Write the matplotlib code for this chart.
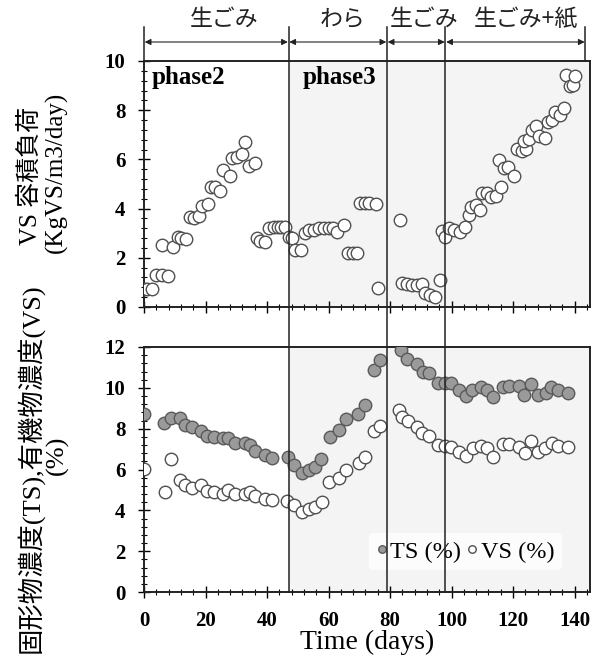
import matplotlib
matplotlib.use('Agg')
import matplotlib.pyplot as plt
import matplotlib.ticker as ticker
from matplotlib.lines import Line2D
from matplotlib.patches import FancyArrowPatch
from matplotlib.transforms import blended_transform_factory

plt.rcParams['font.family'] = ['Liberation Serif', 'Noto Sans CJK JP']

# VS volumetric load (top panel)
load_days = [0, 1, 2.5, 4, 6, 7.8, 5.8, 9.4, 11, 12.1, 13.8, 14.9, 16.2, 17.8,
             18.7, 20.9, 21.7, 23, 24.7, 25.8, 28, 28.5, 30.2, 31.8, 32.9, 34, 36,
             36.7, 37.8, 39.4, 40.6, 42.2, 43.5, 44.6, 46, 47.1, 48.2, 49.1, 50.9,
             52.4, 53.7, 55.3, 56.9, 58.6, 60.2, 61.3, 62.9, 65.1, 66.2, 67.9, 69.2,
             70.1, 71.7, 73.3, 75.3, 76.1, 83.2, 84.0, 85.4, 87, 88.6, 90.3, 91.4,
             93, 94.7, 96.1, 96.8, 97.9, 99, 100.7, 102.8, 104.5, 105.6, 106.3,
             107.8, 109.4, 110, 111.4, 112.7, 114.4, 116, 115.4, 117, 118.4, 120.3,
             121.4, 122.8, 124.2, 123.4, 125.2, 126.3, 127.4, 128.5, 130.4, 131.2,
             132.6, 133.7, 135.1, 136.5, 137.3, 138.4, 139.4, 140.2]
load_vals = [0.72, 0.72, 0.72, 1.3, 1.3, 1.26, 2.52, 2.45, 2.86, 2.8, 2.77, 3.64, 3.6, 3.71,
             4.12, 4.18, 4.89, 4.89, 4.73, 5.57, 5.33, 6.04, 6.08, 6.2, 6.72, 5.73, 5.84,
             2.82, 2.7, 2.65, 3.2, 3.24, 3.26, 3.26, 3.26, 2.83, 2.79, 2.32, 2.32,
             3.0, 3.13, 3.13, 3.2, 3.2, 3.2, 3.2, 3.06, 3.33, 2.21, 2.21, 2.21,
             4.24, 4.24, 4.21, 4.19, 0.76, 3.54, 0.96, 0.94, 0.9, 0.9, 0.94, 0.56,
             0.49, 0.42, 1.1, 3.09, 2.86, 3.2, 3.13, 3.06, 3.27, 3.74, 4.08,
             4.15, 3.94, 4.65, 4.62, 4.48, 4.52, 4.89, 5.98, 5.64, 5.7, 5.33,
             6.41, 6.36, 6.41, 6.76, 6.82, 7.2, 7.36, 6.95, 6.86, 7.53,
             7.6, 7.94, 7.8, 8.08, 9.43, 8.98, 9.02, 9.4]

# TS / VS concentration (bottom panel)
ts_days = [0, 6.5, 8.7, 11.6, 13.3, 15.5, 18.4, 20.6, 22.7, 25.6, 27.4, 29.5, 32.8, 34.6,
           36.2, 39.5, 41.7, 46.9, 48.7, 51.4, 53.6, 55.7, 57.7, 60.6, 63.5, 65.7, 69.7,
           71.8, 74.7, 76.8, 83.7, 85.5, 88.7, 90.6, 92.5, 95.6, 97.7, 99.9, 102.3, 104.6,
           106.6, 109.6, 111.5, 113.6, 116.6, 118.7, 121.8, 123.7, 125.9, 128, 130.6,
           132.4, 134.7, 137.8]
ts_vals = [8.72, 8.3, 8.51, 8.51, 8.18, 8.1, 7.9, 7.66, 7.6, 7.53, 7.53, 7.31, 7.31, 7.2,
           6.92, 6.71, 6.55, 6.6, 6.22, 5.81, 5.98, 6.14, 6.5, 7.61, 7.94, 8.46, 8.72,
           9.17, 10.85, 11.37, 11.83, 11.41, 11.18, 10.8, 10.72, 10.23, 10.23, 10.23, 9.9, 9.61,
           9.9, 10.06, 9.9, 9.57, 10.03, 10.1, 10.1, 9.66, 10.2, 9.66, 9.77,
           10.03, 9.87, 9.77]
vs_days = [0, 6.8, 8.7, 11.6, 13.3, 15.5, 18.4, 20.6, 22.7, 25.6, 27.4, 29.5, 32.8, 34.6,
           36.2, 39.5, 41.7, 46.5, 48.7, 51.4, 53.6, 55.7, 57.9, 60.3, 63.5, 65.7, 69.8,
           71.8, 74.7, 76.8, 82.8, 83.9, 85.8, 88.7, 90.4, 92.5, 95.6, 97.7, 99.9, 102.5,
           104.6, 106.8, 109.6, 111.5, 113.6, 116.6, 118.7, 121.8, 123.9, 125.9, 128,
           130.3, 132.6, 134.7, 137.8]
vs_vals = [6.01, 4.88, 6.5, 5.48, 5.24, 5.07, 5.24, 4.96, 4.88, 4.8, 5.0, 4.8, 4.8, 4.9,
           4.7, 4.55, 4.5, 4.47, 4.26, 3.93, 4.06, 4.17, 4.42, 5.4, 5.57, 5.97, 6.3,
           6.6, 7.9, 8.15, 8.92, 8.59, 8.4, 8.07, 7.78, 7.64, 7.2, 7.17, 7.09, 6.87,
           6.66, 7.04, 7.17, 7.04, 6.63, 7.25, 7.25, 7.09, 6.82, 7.41, 6.87,
           7.04, 7.31, 7.17, 7.09]

# feed periods
bounds = [0, 47, 79, 98, 143.5]
feed_labels = ['生ごみ', 'わら', '生ごみ', '生ごみ+紙']
feed_label_x = [26, 64.5, 91, 124]
phase_labels = ['phase2', 'phase3']
phase_x = [2.5, 51.5]

W, H = 605, 657
fig = plt.figure(figsize=(W / 100, H / 100), dpi=100)
left, right = 144 / W, 590 / W
ax1 = fig.add_axes([left, (H - 307) / H, right - left, 246 / H])
ax2 = fig.add_axes([left, (H - 592) / H, right - left, 245 / H])

open_kw = dict(marker='o', ls='none', ms=9, mfc='white', mec='#505050', mew=1.0)
fill_kw = dict(marker='o', ls='none', ms=9, mfc='#9a9a9a', mec='#5a5a5a', mew=1.0)

ax1.plot(load_days, load_vals, zorder=3, **open_kw)
ax2.plot(ts_days, ts_vals, zorder=3, label='TS (%)', **fill_kw)
ax2.plot(vs_days, vs_vals, zorder=3, label='VS (%)', **open_kw)

for ax, ymax, in [(ax1, 10), (ax2, 12)]:
    ax.set_xlim(0, 145)
    ax.set_ylim(0, ymax)
    ax.axvspan(bounds[1], 145, color='#f4f4f4', zorder=0, lw=0)
    ax.xaxis.set_major_locator(ticker.MultipleLocator(20))
    ax.xaxis.set_minor_locator(ticker.MultipleLocator(4))
    ax.yaxis.set_major_locator(ticker.MultipleLocator(2))
    ax.yaxis.set_minor_locator(ticker.MultipleLocator(0.4))
    ax.tick_params(which='major', direction='inout', length=9, width=1, labelsize=15, pad=9)
    ax.tick_params(which='minor', direction='inout', length=5, width=0.8)
    for sp in ax.spines.values():
        sp.set_linewidth(1.4)
        sp.set_color('#222222')
    for lab in ax.get_xticklabels() + ax.get_yticklabels():
        lab.set_fontweight('bold')

ax1.tick_params(axis='x', labelbottom=False)
ax2.set_xlabel('Time (days)', fontsize=20, labelpad=-1)

# y titles, two lines each
ylab_kw = dict(rotation=90, ha='center', va='center')
fig.text(30 / W, (H - 176) / H, 'VS 容積負荷', fontsize=18, **ylab_kw)
fig.text(56 / W, (H - 172) / H, '(KgVS/m3/day)', fontsize=18, **ylab_kw)
fig.text(30 / W, (H - 468) / H, '固形物濃度(TS),有機物濃度(VS)', fontsize=19, **ylab_kw)
fig.text(57 / W, (H - 455) / H, '(%)', fontsize=19, **ylab_kw)

for name, x in zip(phase_labels, phase_x):
    ax1.text(x, 9.8, name, fontsize=18, fontweight='bold', va='top', ha='left')

leg = ax2.legend(loc='center', bbox_to_anchor=(0.72, 0.165), ncol=2, fontsize=17.5,
                 markerscale=0.6, handlelength=0.5, handletextpad=0.1,
                 columnspacing=0.2, frameon=True, borderpad=0.3)
leg.get_frame().set_edgecolor('none')
leg.get_frame().set_facecolor('white')

# period separators and arrows above the chart
trans = blended_transform_factory(ax2.transData, fig.transFigure)
y_bot, y_top_ax, y_top = (H - 592) / H, (H - 61) / H, (H - 27) / H
y_arrow, y_text = (H - 42) / H, (H - 19) / H
for i, b in enumerate(bounds):
    lo = y_bot if 0 < i < len(bounds) - 1 else y_top_ax
    fig.add_artist(Line2D([b, b], [lo, y_top], transform=trans, color='#222222', lw=1.1))
for b0, b1 in zip(bounds[:-1], bounds[1:]):
    fig.add_artist(FancyArrowPatch(
        (b0, y_arrow), (b1, y_arrow), transform=trans, arrowstyle='<|-|>',
        mutation_scale=9, lw=0.8, color='#222222', shrinkA=0.5, shrinkB=0.5))
for lab, x in zip(feed_labels, feed_label_x):
    fig.text(x, y_text, lab, transform=trans, ha='center', va='center', fontsize=16.5,
             family=['Noto Sans CJK JP'], color='#222222')

fig.savefig('out.png', dpi=100)
